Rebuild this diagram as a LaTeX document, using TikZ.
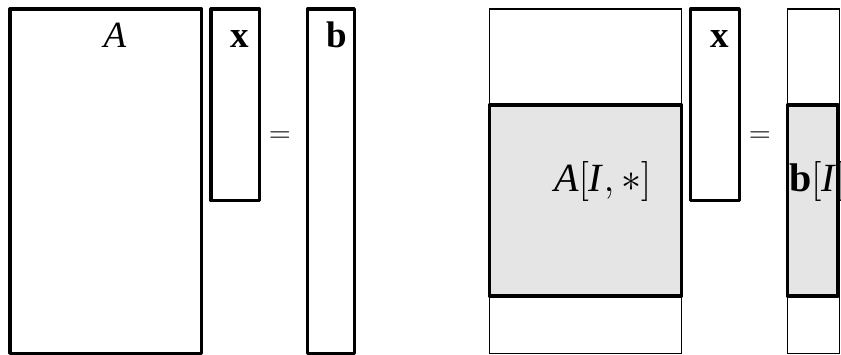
\documentclass[tikz,border=0pt]{standalone}
\usepackage{fix-cm}
\usepackage{fontspec}
\setmainfont{Liberation Serif}
\begin{document}
\begin{tikzpicture}[x=1pt,y=-1pt,
  thickbox/.style={line width=3.2pt,line join=round},
  thinbox/.style={line width=1.1pt},
  shade/.style={fill=black!10},
  biglbl/.style={anchor=base,inner sep=0pt,font=\fontsize{37}{40}\selectfont},
  midlbl/.style={anchor=base west,inner sep=0pt,font=\fontsize{40}{44}\selectfont},
  eqlbl/.style={inner sep=0pt,font=\fontsize{30}{32}\selectfont}]
\useasboundingbox (0,0) rectangle (841,355);
% left panel
\draw[thickbox] (10,9) rectangle (201.5,353.3);
\draw[thickbox] (211,9) rectangle (259.5,200.5);
\draw[thickbox] (307.7,9) rectangle (354.3,353.3);
\node[biglbl] (lA) at (115,48) {\textit{A}};
\node[biglbl] (lx) at (240,48) {\textbf{x}};
\node[biglbl] (lb) at (337,48) {\textbf{b}};
\node[eqlbl] (leq) at (280,137) {$=$};
% right panel
\draw[thinbox] (489.3,9) rectangle (681.7,353.3);
\draw[thickbox,shade] (489.3,105) rectangle (681.7,296);
\draw[thickbox] (690.7,9) rectangle (739.3,200.5);
\draw[thinbox] (787.3,9) rectangle (839.3,353.3);
\draw[thickbox,shade] (787.3,105) rectangle (838,296);
\node[biglbl] (rx) at (720,48) {\textbf{x}};
\node[eqlbl] (req) at (760,137) {$=$};
\node[midlbl] (rA) at (554,192) {\textit{A}$[$\textit{I}$,\ast]$};
\node[midlbl] (rb) at (789,192) {\textbf{b}$[$\textit{I}$]$};
\end{tikzpicture}
\end{document}
